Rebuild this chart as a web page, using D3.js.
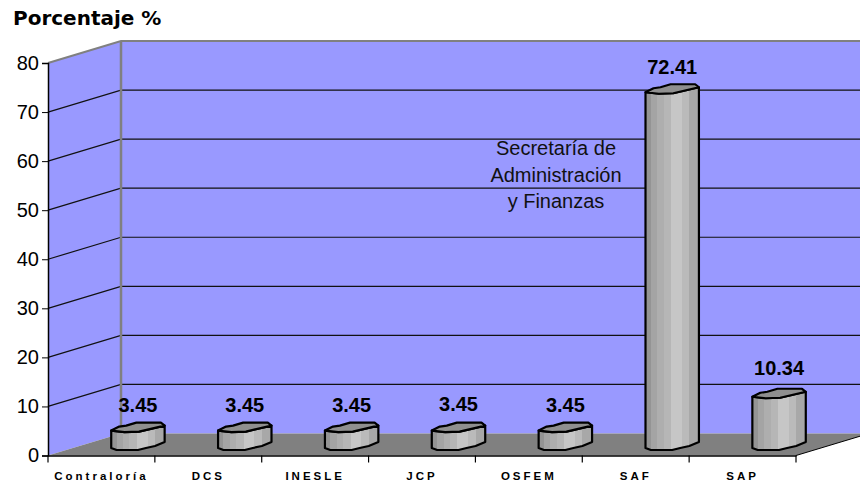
<!DOCTYPE html>
<html>
<head>
<meta charset="utf-8">
<script src="https://cdn.jsdelivr.net/npm/d3@7"></script>
<style>
  html, body { margin: 0; background: #fff; }
  svg { display: block; }
  text { font-family: "Liberation Sans", Arial, sans-serif; fill: #000; }
</style>
</head>
<body>
<svg width="860" height="483"></svg>
<script>
const categories = ['Contraloría', 'DCS', 'INESLE', 'JCP', 'OSFEM', 'SAF', 'SAP'];
const values = [3.45, 3.45, 3.45, 3.45, 3.45, 72.41, 10.34];
const valueLabels = ['3.45', '3.45', '3.45', '3.45', '3.45', '72.41', '10.34'];
const yTicks = [0, 10, 20, 30, 40, 50, 60, 70, 80];
const noteLines = ['Secretaría de', 'Administración', 'y Finanzas'];

// depth of the fake 3d box
const depthX = 73, depthY = -22;

let svg = d3.select('svg');

let x = d3.scaleBand().domain(categories).range([48, 796]);
let y = d3.scaleLinear().domain([0, 80]).range([455.5, 63]);
let line = d3.line();

// side wall, back wall, floor
svg.append('path')
   .attr('d', line([[48, y(0)], [48 + depthX, y(0) + depthY], [48 + depthX, y(80) + depthY], [48, y(80)]]))
   .attr('fill', '#9999ff');
svg.append('rect')
   .attr('x', 48 + depthX).attr('y', y(80) + depthY)
   .attr('width', 760).attr('height', y(0) - y(80))
   .attr('fill', '#9999ff');
svg.append('path')
   .attr('d', line([[48, y(0)], [796, y(0)], [796 + depthX, y(0) + depthY], [48 + depthX, y(0) + depthY]]))
   .attr('fill', '#808080');

// grid lines on both walls
yTicks.slice(1, -1).forEach((t) => {
    svg.append('path')
       .attr('d', line([[48, y(t)], [48 + depthX, y(t) + depthY], [860, y(t) + depthY]]))
       .attr('fill', 'none')
       .attr('stroke', '#111')
       .attr('stroke-width', 1.2);
});

// grey wall edges
svg.append('path')
   .attr('d', line([[48, y(80)], [48 + depthX, y(80) + depthY], [860, y(80) + depthY]]))
   .attr('fill', 'none').attr('stroke', '#808080').attr('stroke-width', 2);
svg.append('path')
   .attr('d', line([[48 + depthX, y(80) + depthY], [48 + depthX, y(0) + depthY]]))
   .attr('fill', 'none').attr('stroke', '#808080').attr('stroke-width', 2.5);

// stripes across the cylinders
let stripes = [
    [0, '#949494'], [0.1, '#949494'], [0.1, '#a4a4a4'], [0.22, '#a4a4a4'], [0.22, '#aeaeae'], [0.34, '#aeaeae'],
    [0.34, '#b6b6b6'], [0.48, '#b6b6b6'], [0.48, '#c6c6c6'], [0.68, '#c6c6c6'], [0.68, '#bababa'], [0.82, '#bababa'],
    [0.82, '#a8a8a8'], [1, '#a8a8a8'],
];
let gradient = svg.append('defs').append('linearGradient').attr('id', 'cyl');
stripes.forEach(([o, c]) => gradient.append('stop').attr('offset', o).attr('stop-color', c));

let barWidth = x.bandwidth() * 0.5;

categories.forEach((cat, i) => {
    let left = x(cat) + x.bandwidth() / 2 + depthX / 2 - barWidth / 2;
    let base = y(0) + depthY / 2;
    let top = y(values[i]) + depthY / 2;
    let px = (t) => left + t * barWidth;

    let g = svg.append('g').attr('stroke', '#000').attr('stroke-width', 2.2).attr('stroke-linejoin', 'round');

    g.append('path')
     .attr('d', line([
        [px(0), top + 3], [px(0), base + 3.5], [px(0.1), base + 5.5], [px(0.5), base + 5.5],
        [px(0.65), base + 3.5], [px(0.82), base + 1.5], [px(1), base - 2.5], [px(1), top - 2],
        [px(0.52), top + 4], [px(0.25), top + 4.5],
     ]) + 'Z')
     .attr('fill', 'url(#cyl)');

    g.append('path')
     .attr('d', line([
        [px(0), top + 3], [px(0.15), top - 1], [px(0.28), top - 2], [px(0.47), top - 5], [px(0.93), top - 5],
        [px(1), top - 2], [px(0.52), top + 4], [px(0.25), top + 4.5],
     ]) + 'Z')
     .attr('fill', '#8f8f8f');

    // the labels don't sit at the same gap everywhere in the original
    let gap = cat === 'SAP' ? 19 : cat === 'JCP' ? 17 : cat === 'SAF' ? 15 : 16;

    svg.append('text')
       .attr('x', px(0.5))
       .attr('y', top - gap)
       .attr('text-anchor', 'middle')
       .attr('font-size', 20)
       .attr('font-weight', 'bold')
       .text(valueLabels[i]);
});

// y axis
let yAxis = svg.append('g')
    .attr('transform', 'translate(48,0)')
    .call(d3.axisLeft(y).tickValues(yTicks).tickSize(6).tickPadding(3));
yAxis.select('.domain').attr('stroke', '#000').attr('stroke-width', 1.5);
yAxis.selectAll('.tick line').attr('stroke', '#000');
yAxis.selectAll('.tick text').attr('font-size', 20).attr('font-family', '"Liberation Sans", Arial, sans-serif');

// x axis
let xAxis = svg.append('g')
    .attr('transform', `translate(0,${y(0)})`)
    .call(d3.axisBottom(x).tickSize(0).tickPadding(16));
xAxis.select('.domain').attr('stroke', '#000').attr('stroke-width', 1.5);
xAxis.selectAll('.tick text')
     .attr('font-size', 11.5)
     .attr('font-weight', 'bold')
     .attr('font-family', '"Liberation Sans", Arial, sans-serif')
     .attr('letter-spacing', 3);
categories.concat(['']).forEach((cat, i) => {
    let tx = 48 + i * x.bandwidth();
    svg.append('line')
       .attr('x1', tx).attr('x2', tx)
       .attr('y1', y(0)).attr('y2', y(0) + 7)
       .attr('stroke', '#000').attr('stroke-width', 1.2);
});
svg.append('path')
   .attr('d', line([[796, y(0)], [796 + depthX, y(0) + depthY]]))
   .attr('fill', 'none').attr('stroke', '#000').attr('stroke-width', 1);

svg.append('text')
   .attr('x', 13).attr('y', 25)
   .attr('font-size', 20)
   .attr('font-weight', 'bold')
   .style('font-family', '"DejaVu Sans", Verdana, sans-serif')
   .text('Porcentaje %');

noteLines.forEach((l, i) => {
    svg.append('text')
       .attr('x', 556).attr('y', 155 + i * 26.5)
       .attr('text-anchor', 'middle')
       .attr('font-size', 20)
       .style('fill', '#111')
       .text(l);
});
</script>
</body>
</html>
